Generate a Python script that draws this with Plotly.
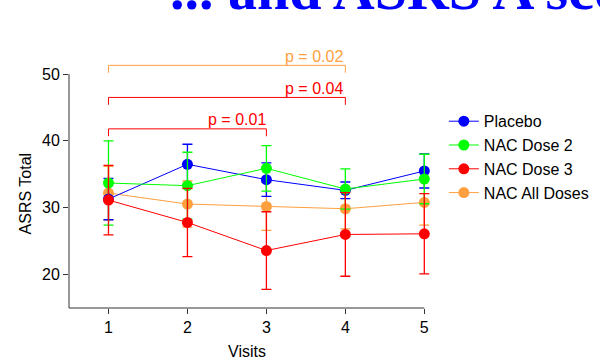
import plotly.graph_objects as go

visits = [1, 2, 3, 4, 5]
series_names = ["Placebo", "NAC Dose 2", "NAC Dose 3", "NAC All Doses"]
placebo = [31.3, 36.5, 34.2, 32.6, 35.5]
placebo_err = [3.1, 3.0, 2.5, 1.25, 2.55]
dose2 = [33.7, 33.3, 35.9, 32.8, 34.3]
dose2_err = [6.3, 5.0, 3.4, 3.0, 3.7]
dose3 = [31.15, 27.8, 23.6, 26.0, 26.1]
dose3_err = [5.2, 5.1, 5.8, 6.25, 6.0]
alldoses = [32.2, 30.55, 30.2, 29.85, 30.8]
alldoses_err = [4.0, 3.45, 3.6, 3.0, 3.4]

y_ticks = [20, 30, 40, 50]
brackets = [  # (x_from, x_to, level, label, colour)
    (1, 4, 51.3, "p = 0.02", "#FFA040"),
    (1, 4, 46.5, "p = 0.04", "#FF0000"),
    (1, 3, 41.8, "p = 0.01", "#FF0000"),
]
title_text = "... and ASRS A scores"

FONT = "Liberation Sans, Arial, sans-serif"
colors = {"Placebo": "#0000FF", "NAC Dose 2": "#00FF00",
          "NAC Dose 3": "#FF0000", "NAC All Doses": "#FFA040"}
data = {"Placebo": (placebo, placebo_err), "NAC Dose 2": (dose2, dose2_err),
        "NAC Dose 3": (dose3, dose3_err), "NAC All Doses": (alldoses, alldoses_err)}

fig = go.Figure()
draw_order = ["NAC All Doses", "Placebo", "NAC Dose 2", "NAC Dose 3"]
for name in draw_order:
    vals, err = data[name]
    c = colors[name]
    fig.add_trace(go.Scatter(
        x=visits, y=vals, name=name, mode="lines+markers",
        line=dict(color=c, width=1),
        marker=dict(color=c, size=11),
        error_y=dict(type="data", array=err, visible=True, color=c, thickness=1.3, width=5),
        legendrank=series_names.index(name) + 1,
    ))

shapes = []
annotations = []
for x0, x1, lvl, lab, c in brackets:
    shapes.append(dict(type="path", xref="x", yref="y",
                       path=f"M {x0},{lvl - 1.1} L {x0},{lvl} L {x1},{lvl} L {x1},{lvl - 1.1}",
                       line=dict(color=c, width=1)))
    annotations.append(dict(x=x1 + (0.02 if x1 == 3 else 0), y=lvl + 1.4, xref="x", yref="y",
                            text=lab, showarrow=False, xanchor="right", yanchor="middle",
                            font=dict(family=FONT, size=16, color=c)))

# axis lines (limited to the data span)
shapes.append(dict(type="line", xref="x", yref="paper", x0=0.5, x1=5, y0=0, y1=0,
                   line=dict(color="#333333", width=1)))
shapes.append(dict(type="line", xref="paper", yref="y", x0=0, x1=0, y0=15, y1=50,
                   line=dict(color="#333333", width=1)))

annotations.append(dict(x=2.75, y=-0.171, xref="x", yref="paper", text="Visits", showarrow=False,
                        xanchor="center", yanchor="middle", font=dict(family=FONT, size=16, color="black")))
annotations.append(dict(x=-0.115, y=32.2, xref="paper", yref="y", text="ASRS Total", showarrow=False,
                        textangle=-90, xanchor="center", yanchor="middle",
                        font=dict(family=FONT, size=16, color="black")))
annotations.append(dict(x=0.26, y=1.12, xref="paper", yref="paper", text=title_text, showarrow=False,
                        xanchor="left", yanchor="bottom",
                        font=dict(family="Liberation Serif, Times New Roman, serif", size=58, color="#0000FF",
                                  weight="bold")))

fig.update_layout(
    width=600, height=361,
    margin=dict(l=69, r=152, t=54, b=52.5, pad=0, autoexpand=False),
    paper_bgcolor="white", plot_bgcolor="white",
    showlegend=True,
    legend=dict(x=0.989, y=0.802, xanchor="left", yanchor="top", bgcolor="rgba(0,0,0,0)",
                font=dict(family=FONT, size=16, color="black"), traceorder="normal"),
    xaxis=dict(range=[0.5, 5.3], tickvals=visits, ticks="outside", ticklen=5, tickcolor="#333333",
               showgrid=False, zeroline=False, showline=False,
               tickfont=dict(family=FONT, size=16, color="black")),
    yaxis=dict(range=[15, 53], tickvals=y_ticks, ticks="outside", ticklen=5, tickcolor="#333333",
               showgrid=False, zeroline=False, showline=False,
               tickfont=dict(family=FONT, size=16, color="black")),
    shapes=shapes, annotations=annotations,
)

fig.write_html("out.html")
